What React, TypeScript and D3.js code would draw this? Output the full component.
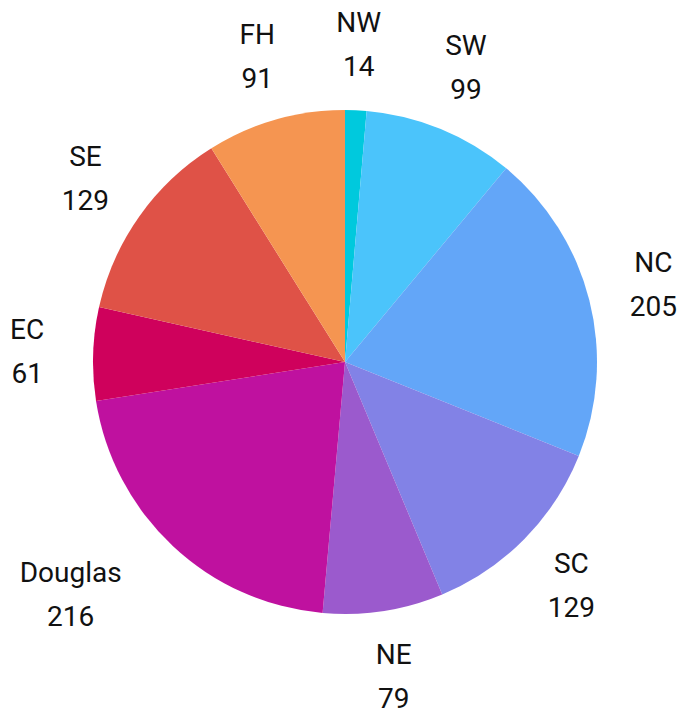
import React from "react";
import * as d3 from "d3";

const categories = ["NW", "SW", "NC", "SC", "NE", "Douglas", "EC", "SE", "FH"];
const values = [14, 99, 205, 129, 79, 216, 61, 129, 91];
const colors = ["#00c9dd", "#4bc4fb", "#63a6f8", "#8282e6", "#9b5acd", "#bf119f", "#cf015c", "#df5247", "#f59551"];

const W = 681, H = 715;
const cx = 345, cy = 362, R = 252, LR = 318;

export default function App() {
  const data = categories.map((c, i) => ({ name: c, value: values[i], color: colors[i] }));
  const pie = d3.pie<any>().value((d) => d.value).sort(null);
  const arcs = pie(data);
  const arc = d3.arc<any>().innerRadius(0).outerRadius(R);
  const labelArc = d3.arc<any>().innerRadius(LR).outerRadius(LR);
  return (
    <svg width={W} height={H} style={{ position: "absolute", left: 0, top: 0 }}>
      <g transform={`translate(${cx},${cy})`}>
        {arcs.map((a, i) => (
          <path key={i} d={arc(a) as string} fill={a.data.color} />
        ))}
        {arcs.map((a, i) => {
          const [x, y] = labelArc.centroid(a);
          const dx = a.data.name === "Douglas" ? -57 : 0;
          return (
            <g key={"l" + i} transform={`translate(${x + dx},${y})`} fontFamily="Roboto, sans-serif" fontSize={28} fill="#111" textAnchor="middle">
              <text y={-22} dominantBaseline="central">{a.data.name}</text>
              <text y={22} dominantBaseline="central">{a.data.value}</text>
            </g>
          );
        })}
      </g>
    </svg>
  );
}
